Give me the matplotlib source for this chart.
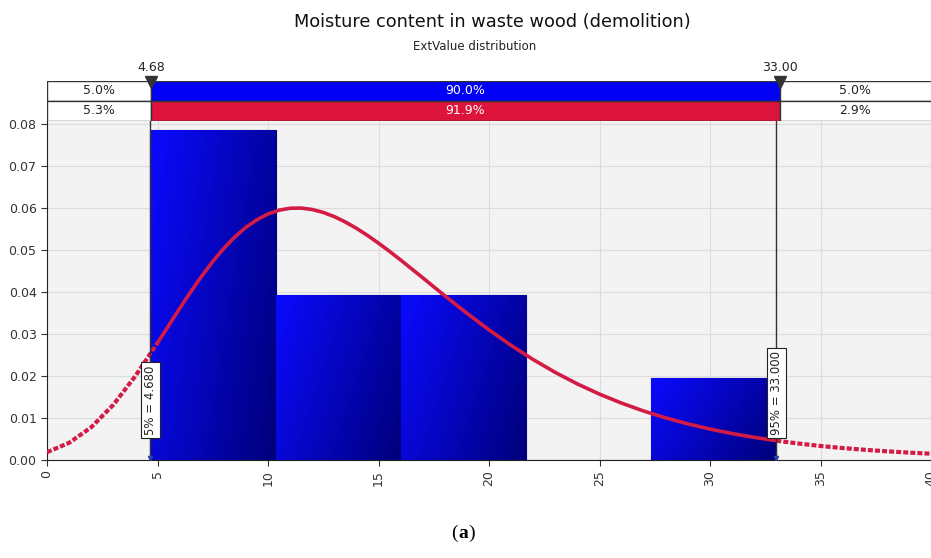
import numpy as np
import matplotlib
matplotlib.use("Agg")
import matplotlib.pyplot as plt
from matplotlib.colors import LinearSegmentedColormap

# histogram of the samples (density per bin)
bin_edges = [4.68, 10.344, 16.008, 21.672, 27.336, 33.0]
bin_density = [0.0785, 0.0392, 0.0392, 0.0, 0.0196]

# fitted ExtValue density, read along the moisture axis
curve_x = [0, 1, 2, 3, 4, 5, 6, 6.5, 7, 7.5, 8, 8.5, 9, 9.5, 10, 10.5, 11, 11.5,
           12, 12.5, 13, 13.5, 14, 14.5, 15, 15.5, 16, 17, 18, 19, 20, 21, 22, 23,
           24, 25, 26, 27, 28, 29, 30, 31, 32, 33, 34, 35, 36, 37, 38, 39, 40]
curve_y = [0.00186, 0.00409, 0.00779, 0.01314, 0.0200, 0.02787, 0.03606, 0.04002,
           0.04378, 0.04726, 0.05039, 0.05312, 0.0554, 0.05721, 0.05858, 0.05948,
           0.05994, 0.05998, 0.05964, 0.05894, 0.05795, 0.05667, 0.05517, 0.05348,
           0.05163, 0.04967, 0.04763, 0.04339, 0.0391, 0.03494, 0.03098, 0.02729,
           0.02391, 0.02085, 0.01811, 0.01568, 0.01354, 0.01166, 0.01002, 0.0086,
           0.00737, 0.0063, 0.00539, 0.0046, 0.00392, 0.00334, 0.00285, 0.00243,
           0.00207, 0.00176, 0.0015]

# delimiters and percentages shown in the band above the chart
lo_mark, hi_mark = 4.68, 33.0
input_pct = ["5.0%", "90.0%", "5.0%"]
fit_pct = ["5.3%", "91.9%", "2.9%"]

title = "Moisture content in waste wood (demolition)"
subtitle = "ExtValue distribution"

W, H = 931, 558
fig = plt.figure(figsize=(W / 100, H / 100), dpi=100)

x0, x1 = 47, 931
ybot, ytop = 460, 121
xmax = 39.8

ax = fig.add_axes([x0 / W, 1 - ybot / H, (x1 - x0) / W, (ybot - ytop) / H])
ax.set_xlim(0, xmax)
ax.set_ylim(0, 0.08 + 3 / 4200)
ax.set_facecolor("#f3f3f3")
ax.grid(True, color="#dcdcdc", linewidth=0.8)
ax.set_axisbelow(True)
for s in ["top", "right"]:
    ax.spines[s].set_visible(False)
ax.spines["left"].set_color("#222222")
ax.spines["bottom"].set_color("#222222")
ax.set_xticks(np.arange(0, 41, 5))
ax.set_yticks(np.arange(0, 0.081, 0.01))
ax.set_yticklabels([f"{v:.2f}" for v in np.arange(0, 0.081, 0.01)])
ax.tick_params(axis="x", labelrotation=90, labelsize=9, colors="#333333", length=4)
ax.tick_params(axis="y", labelsize=9, colors="#333333", length=4)

# bars with a blue shading
widths = np.diff(bin_edges)
bars = ax.bar(bin_edges[:-1], bin_density, width=widths, align="edge",
              color="#0000e0", edgecolor="#000070", linewidth=0.8, zorder=2)
blues = LinearSegmentedColormap.from_list("blues", ["#0a0aff", "#00007a"])
u, v = np.meshgrid(np.linspace(0, 1, 100), np.linspace(0, 1, 100))
shade = 0.7 * u + 0.3 * v
for b, h in zip(bars, bin_density):
    if h <= 0:
        continue
    bx = b.get_x()
    im = ax.imshow(shade, cmap=blues, extent=(bx, bx + b.get_width(), 0, h),
                   origin="upper", aspect="auto", zorder=2.1, vmin=0, vmax=1)
    im.set_clip_path(b)

# fitted curve: solid inside the delimiters, dashed in the tails
cx = np.array(curve_x, dtype=float)
cy = np.array(curve_y)
red = "#d41b45"
inside = (cx >= 5) & (cx <= 33)
ax.plot(cx[inside], cy[inside], color=red, lw=2.6, zorder=4)
ax.plot(cx[cx <= 5], cy[cx <= 5], color=red, lw=3, ls=(0, (1.2, 0.5)), zorder=4)
ax.plot(cx[cx >= 33], cy[cx >= 33], color=red, lw=3, ls=(0, (1.2, 0.5)), zorder=4)

# delimiter lines and their labels
for xm, lab, yc in [(lo_mark, "5% = 4.680", 0.0143), (hi_mark, "95% = 33.000", 0.0160)]:
    ax.axvline(xm, color="#333333", lw=1, zorder=5)
    ax.plot([xm], [0.0004], marker="v", ms=3, color="#3040a0", zorder=6, clip_on=False)
    ax.text(xm, yc, lab, rotation=90, ha="center", va="center", fontsize=8.5,
            color="#222222", zorder=7,
            bbox=dict(boxstyle="square,pad=0.25", fc="white", ec="#222222", lw=0.8))

# band with the percentages
band_top = 81
tb = fig.add_axes([x0 / W, 1 - ytop / H, (x1 - x0) / W, (ytop - band_top) / H])
tb.set_xlim(0, xmax)
tb.set_ylim(0, 2)
tb.axis("off")
for row, pcts, col in [(1, input_pct, "#0000f5"), (0, fit_pct, "#dc143c")]:
    tb.barh(row + 0.5, lo_mark, left=0, height=1, color="white", edgecolor="#333333", lw=1)
    tb.barh(row + 0.5, hi_mark - lo_mark, left=lo_mark, height=1, color=col,
            edgecolor="#333333", lw=1)
    tb.barh(row + 0.5, 45 - hi_mark, left=hi_mark, height=1, color="white",
            edgecolor="#333333", lw=1, clip_on=True)
    tb.text(lo_mark / 2, row + 0.5, pcts[0], ha="center", va="center", fontsize=9, color="#222222")
    tb.text((lo_mark + hi_mark) / 2, row + 0.5, pcts[1], ha="center", va="center",
            fontsize=9, color="white")
    tb.text((hi_mark + xmax) / 2, row + 0.5, pcts[2], ha="center", va="center", fontsize=9, color="#222222")
for xm, lab in [(lo_mark, "4.68"), (hi_mark, "33.00")]:
    tb.plot([xm], [1.93], marker="v", ms=8, color="#333333", clip_on=False, zorder=5)
    tb.text(xm, 2.35, lab, ha="center", va="bottom", fontsize=9, color="#222222")

fig.text(492 / W, 1 - 22 / H, title, ha="center", va="center", fontsize=12.8, color="#111111")
fig.text(475 / W, 1 - 46 / H, subtitle, ha="center", va="center", fontsize=8.5, color="#222222")

# panel caption
fig.text(458 / W, 1 - 533 / H, "(", ha="right", va="center", fontsize=14, family="Liberation Serif")
fig.text(458 / W, 1 - 533 / H, "a", ha="left", va="center", fontsize=14,
         family="Liberation Serif", weight="bold")
fig.text(468 / W, 1 - 533 / H, ")", ha="left", va="center", fontsize=14, family="Liberation Serif")

fig.savefig("out.png", dpi=100)
